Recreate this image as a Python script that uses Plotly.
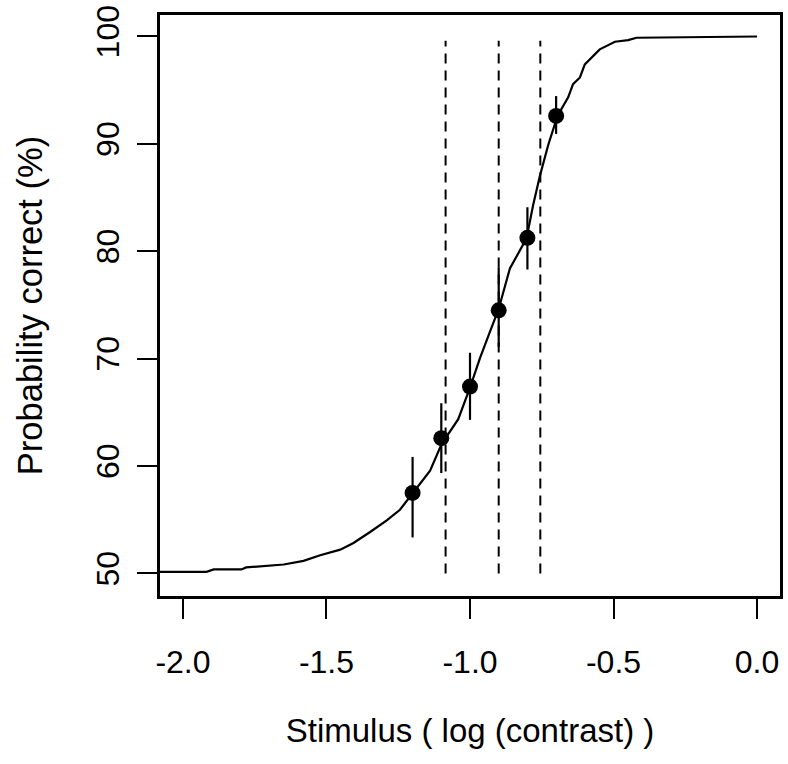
import plotly.graph_objects as go

# Fitted psychometric curve
curve_x = [-2.085, -1.918, -1.893, -1.796, -1.78, -1.709, -1.649, -1.58, -1.522, -1.452,
           -1.406, -1.348, -1.29, -1.244, -1.203, -1.139, -1.099, -1.041, -1.0, -0.965,
           -0.93, -0.901, -0.861, -0.803, -0.78, -0.756, -0.728, -0.695, -0.658, -0.641,
           -0.617, -0.6, -0.548, -0.495, -0.449, -0.42, 0.0]
curve_y = [50.15, 50.15, 50.37, 50.37, 50.56, 50.68, 50.83, 51.17, 51.7, 52.22,
           52.84, 53.86, 54.94, 55.93, 57.35, 59.57, 62.05, 64.36, 67.3, 70.07,
           72.55, 74.56, 78.4, 81.2, 84.3, 87.07, 89.85, 92.63, 94.33, 95.56,
           96.18, 97.4, 98.8, 99.51, 99.66, 99.88, 100.0]

# Observed data points with error bars
stim = [-1.2, -1.1, -1.0, -0.9, -0.8, -0.7]
pc = [57.5, 62.6, 67.4, 74.5, 81.25, 92.6]
err_hi = [60.85, 65.85, 70.55, 78.5, 84.1, 94.45]
err_lo = [53.35, 59.35, 64.3, 71.1, 78.3, 90.93]

# Threshold lines
thresholds = [-1.085, -0.9, -0.755]
thr_lo, thr_hi = 50.0, 99.6

x_ticks = [-2.0, -1.5, -1.0, -0.5, 0.0]
x_ticktext = ["-2.0", "-1.5", "-1.0", "-0.5", "0.0"]
y_ticks = [50, 60, 70, 80, 90, 100]
y_ticktext = ["50", "60", "70", "80", "90", "100"]

FONT = "Liberation Sans, Arial, sans-serif"

fig = go.Figure()

for t in thresholds:
    fig.add_trace(go.Scatter(x=[t, t], y=[thr_lo, thr_hi], mode="lines",
                             line=dict(color="black", width=2, dash="10px,7px"),
                             showlegend=False, hoverinfo="skip"))

fig.add_trace(go.Scatter(x=curve_x, y=curve_y, mode="lines",
                         line=dict(color="black", width=2.2), showlegend=False))

fig.add_trace(go.Scatter(
    x=stim, y=pc, mode="markers",
    marker=dict(color="black", size=16, symbol="circle"),
    error_y=dict(type="data", symmetric=False,
                 array=[h - p for h, p in zip(err_hi, pc)],
                 arrayminus=[p - l for l, p in zip(err_lo, pc)],
                 width=0, thickness=2.2, color="black"),
    showlegend=False))

fig.update_layout(
    width=788, height=764,
    margin=dict(l=160, r=5, t=13, b=168),
    paper_bgcolor="white", plot_bgcolor="white",
    font=dict(family=FONT, size=32, color="black"),
    xaxis=dict(range=[-2.08, 0.08], tickvals=x_ticks, ticktext=x_ticktext,
               showgrid=False, zeroline=False, showline=True, mirror=True,
               linecolor="black", linewidth=3,
               ticks="outside", ticklen=20, tickwidth=2, tickcolor="black",
               ticklabelstandoff=16,
               title=dict(text="Stimulus ( log (contrast) )", standoff=40,
                          font=dict(family=FONT, size=33))),
    yaxis=dict(range=[47.9, 102.0], tickvals=y_ticks, ticktext=y_ticktext,
               showgrid=False, zeroline=False, showline=True, mirror=True,
               linecolor="black", linewidth=3,
               ticks="outside", ticklen=20, tickwidth=2, tickcolor="black",
               tickangle=-90, ticklabelstandoff=5,
               title=dict(text="Probability correct (%)", standoff=38,
                          font=dict(family=FONT, size=34.5))),
)

fig.write_html("out.html")
